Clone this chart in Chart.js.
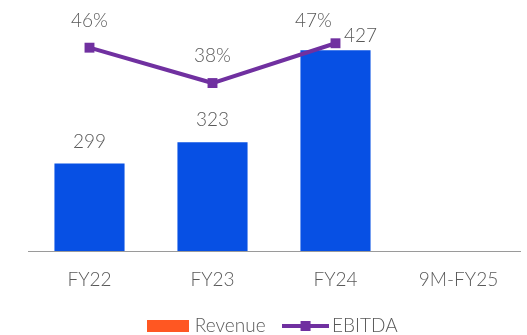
<!DOCTYPE html>
<html>
<head>
<meta charset="utf-8">
<script src="https://cdn.jsdelivr.net/npm/chart.js@4.4.1/dist/chart.umd.min.js"></script>
<style>
  html, body { margin: 0; padding: 0; background: #ffffff; overflow: hidden; }
  #wrap { width: 527px; height: 335px; position: relative; }
</style>
</head>
<body>
<div id="wrap"><canvas id="chart"></canvas></div>
<script>
// Fiscal periods shown along the x axis
const categories = ['FY22', 'FY23', 'FY24', '9M-FY25'];
// Revenue per period (bars); the 9M-FY25 value is not shown
const revenue = [299, 323, 427, null];
// EBITDA margin per period, in percent (line)
const ebitdaMargin = [46, 38, 47, null];

const BAR_BLUE = '#0750E4';
const LINE_PURPLE = '#7030A0';
const LEGEND_ORANGE = '#FF5722';
const TEXT_GREY = '#595959';
const FONT = "Lato, 'Open Sans', sans-serif";

// Label offsets (px) from each mark: [dx, dy]; FY24 labels are nudged apart
const LINE_LABEL_SHIFT = [[0, -27], [0, -27], [-22, -22], [0, -27]];
const BAR_LABEL_SHIFT = [[0, -22], [0, -22], [25, -14], [0, -22]];

// Legend swatches: an orange block for Revenue and a line with a square marker for EBITDA
function makeSwatch(kind) {
  const c = document.createElement('canvas');
  const g = c.getContext('2d');
  if (kind === 'bar') {
    c.width = 42; c.height = 12;
    g.fillStyle = LEGEND_ORANGE;
    g.fillRect(0, 0, 42, 12);
  } else {
    c.width = 47; c.height = 12;
    g.strokeStyle = LINE_PURPLE;
    g.lineWidth = 4;
    g.beginPath(); g.moveTo(0, 6); g.lineTo(47, 6); g.stroke();
    g.fillStyle = LINE_PURPLE;
    g.fillRect(19, 1, 10, 10);
  }
  return c;
}
const swatches = { bar: makeSwatch('bar'), line: makeSwatch('line') };

// Value labels drawn next to bars and line points
const valueLabels = {
  id: 'valueLabels',
  afterDatasetsDraw(chart) {
    const ctx = chart.ctx;
    ctx.save();
    ctx.font = `300 19px ${FONT}`;
    ctx.fillStyle = TEXT_GREY;
    ctx.textAlign = 'center';
    ctx.textBaseline = 'middle';
    chart.data.datasets.forEach((ds, di) => {
      const meta = chart.getDatasetMeta(di);
      const isLine = ds.type === 'line';
      const shifts = isLine ? LINE_LABEL_SHIFT : BAR_LABEL_SHIFT;
      meta.data.forEach((el, i) => {
        const v = ds.data[i];
        if (v === null || v === undefined) return;
        const s = shifts[i];
        ctx.fillText(isLine ? v + '%' : String(v), el.x + s[0], el.y + s[1]);
      });
    });
    ctx.restore();
  }
};

new Chart(document.getElementById('chart'), {
  data: {
    labels: categories,
    datasets: [
      {
        type: 'line',
        label: 'EBITDA',
        data: ebitdaMargin,
        yAxisID: 'yMargin',
        borderColor: LINE_PURPLE,
        backgroundColor: LINE_PURPLE,
        borderWidth: 4,
        pointStyle: 'rect',
        pointRadius: 7,
        pointBorderWidth: 0,
        pointBackgroundColor: LINE_PURPLE,
        tension: 0,
        spanGaps: false,
        order: 0
      },
      {
        type: 'bar',
        label: 'Revenue',
        data: revenue,
        yAxisID: 'yRevenue',
        backgroundColor: BAR_BLUE,
        borderWidth: 0,
        barPercentage: 0.57,
        categoryPercentage: 1.0,
        order: 1
      }
    ]
  },
  plugins: [valueLabels],
  options: {
    responsive: true,
    maintainAspectRatio: false,
    animation: false,
    layout: { padding: { top: 30, left: 28, right: 7, bottom: -10.5 } },
    scales: {
      x: {
        grid: { display: false, drawTicks: false },
        border: { display: true, color: '#9A9A9A', width: 1 },
        ticks: { color: TEXT_GREY, font: { family: FONT, size: 19, weight: 300 }, padding: 17 },
        afterFit(scale) { scale.height = 43.5; }
      },
      yRevenue: {
        display: false,
        position: 'left',
        min: 200,
        max: 450
      },
      yMargin: {
        display: false,
        position: 'right',
        min: 0,
        max: 50,
        grid: { drawOnChartArea: false }
      }
    },
    plugins: {
      tooltip: { enabled: false },
      legend: {
        position: 'bottom',
        labels: {
          usePointStyle: true,
          pointStyleWidth: 35,
          boxHeight: 12,
          padding: 22,
          color: TEXT_GREY,
          font: { family: FONT, size: 19, weight: 300 },
          generateLabels() {
            return [
              { text: 'Revenue', pointStyle: swatches.bar, datasetIndex: 1, fontColor: TEXT_GREY, lineWidth: 0 },
              { text: 'EBITDA', pointStyle: swatches.line, datasetIndex: 0, fontColor: TEXT_GREY, lineWidth: 0 }
            ];
          }
        }
      }
    }
  }
});
</script>
</body>
</html>
